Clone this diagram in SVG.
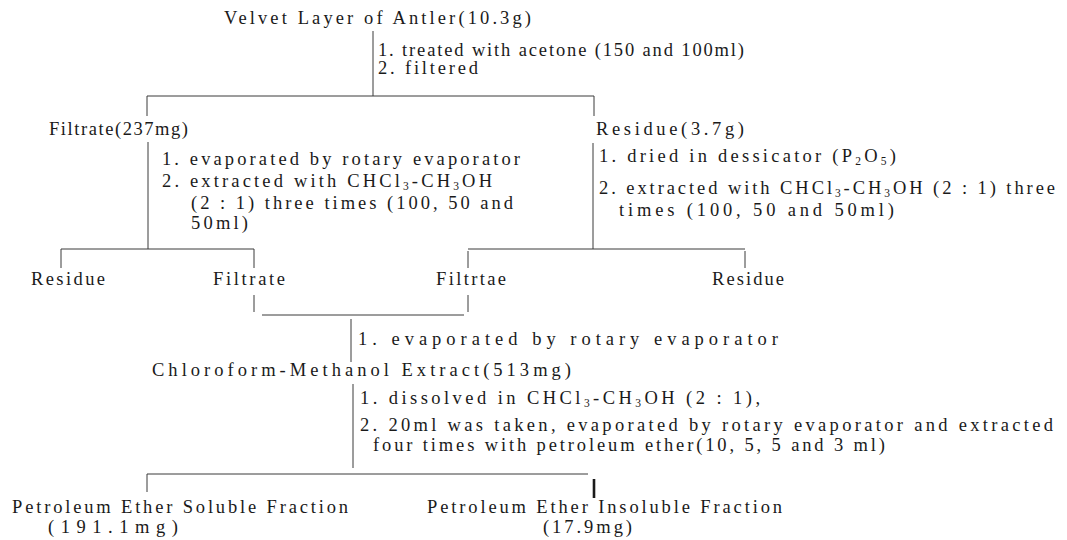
<svg xmlns="http://www.w3.org/2000/svg" width="1067" height="540" viewBox="0 0 1067 540">
<style>
  text { font-family: "Liberation Serif", "Times New Roman", serif; font-size: 18.5px; fill: #1a1a1a; }
  .s { font-size: 11.5px; }
  .ln { stroke: #3a3a3a; stroke-width: 1; fill: none; }
  .bold { stroke: #1a1a1a; stroke-width: 2.6; fill: none; }
</style>
<rect width="1067" height="540" fill="#ffffff"/>
<g id="connectors">
  <line class="ln" x1="373" y1="31" x2="373" y2="96"/>
  <line class="ln" x1="147" y1="96" x2="594" y2="96"/>
  <line class="ln" x1="147" y1="96" x2="147" y2="116"/>
  <line class="ln" x1="594" y1="96" x2="594" y2="116"/>
  <line class="ln" x1="148" y1="142" x2="148" y2="249"/>
  <line class="ln" x1="593" y1="143" x2="593" y2="249"/>
  <line class="ln" x1="61" y1="249" x2="254" y2="249"/>
  <line class="ln" x1="468" y1="249" x2="745" y2="249"/>
  <line class="ln" x1="61" y1="249" x2="61" y2="268"/>
  <line class="ln" x1="254" y1="249" x2="254" y2="268"/>
  <line class="ln" x1="468" y1="251" x2="468" y2="268"/>
  <line class="ln" x1="745" y1="251" x2="745" y2="268"/>
  <line class="ln" x1="254" y1="295" x2="254" y2="312"/>
  <line class="ln" x1="468" y1="295" x2="468" y2="312"/>
  <line class="ln" x1="262" y1="315" x2="464" y2="315"/>
  <line class="ln" x1="351" y1="319" x2="351" y2="362"/>
  <line class="ln" x1="353" y1="384" x2="353" y2="468"/>
  <line class="ln" x1="147" y1="474" x2="588" y2="474"/>
  <line class="ln" x1="147" y1="474" x2="147" y2="492"/>
  <line class="bold" x1="594" y1="479" x2="594" y2="498"/>
</g>
<g id="n-velvet"><text x="224" y="24" textLength="307" lengthAdjust="spacing">Velvet Layer of Antler(10.3g)</text></g>
<g id="step-acetone">
  <text x="378" y="56" textLength="366" lengthAdjust="spacing">1. treated with acetone (150 and 100ml)</text>
  <text x="378" y="74" textLength="100" lengthAdjust="spacing">2. filtered</text>
</g>
<g id="n-filtrate1"><text x="49" y="135" textLength="139" lengthAdjust="spacing">Filtrate(237mg)</text></g>
<g id="n-residue1"><text x="596" y="135" textLength="148" lengthAdjust="spacing">Residue(3.7g)</text></g>
<g id="step-filtrate">
  <text x="162" y="165" textLength="358" lengthAdjust="spacing">1. evaporated by rotary evaporator</text>
  <text x="162" y="187" textLength="330" lengthAdjust="spacing">2. extracted with CHCl<tspan class="s" dy="3">3</tspan><tspan dy="-3">-CH</tspan><tspan class="s" dy="3">3</tspan><tspan dy="-3">OH</tspan></text>
  <text x="191" y="209" textLength="322" lengthAdjust="spacing">(2 : 1) three times (100, 50 and</text>
  <text x="191" y="229" textLength="57" lengthAdjust="spacing">50ml)</text>
</g>
<g id="step-residue">
  <text x="599" y="162" textLength="297" lengthAdjust="spacing">1. dried in dessicator (P<tspan class="s" dy="3">2</tspan><tspan dy="-3">O</tspan><tspan class="s" dy="3">5</tspan><tspan dy="-3">)</tspan></text>
  <text x="599" y="194" textLength="456" lengthAdjust="spacing">2. extracted with CHCl<tspan class="s" dy="3">3</tspan><tspan dy="-3">-CH</tspan><tspan class="s" dy="3">3</tspan><tspan dy="-3">OH (2 : 1) three</tspan></text>
  <text x="619" y="216" textLength="275" lengthAdjust="spacing">times (100, 50 and 50ml)</text>
</g>
<g id="n-residue2"><text x="31" y="285" textLength="74" lengthAdjust="spacing">Residue</text></g>
<g id="n-filtrate2"><text x="213" y="285" textLength="72" lengthAdjust="spacing">Filtrate</text></g>
<g id="n-filtrate3"><text x="436" y="285" textLength="70" lengthAdjust="spacing">Filtrtae</text></g>
<g id="n-residue3"><text x="712" y="285" textLength="72" lengthAdjust="spacing">Residue</text></g>
<g id="step-evaporate"><text x="358" y="345" textLength="420" lengthAdjust="spacing">1. evaporated by rotary evaporator</text></g>
<g id="n-extract"><text x="152" y="376" textLength="419" lengthAdjust="spacing">Chloroform-Methanol Extract(513mg)</text></g>
<g id="step-petroleum">
  <text x="360" y="404" textLength="400" lengthAdjust="spacing">1. dissolved in CHCl<tspan class="s" dy="3">3</tspan><tspan dy="-3">-CH</tspan><tspan class="s" dy="3">3</tspan><tspan dy="-3">OH (2 : 1),</tspan></text>
  <text x="360" y="431" textLength="693" lengthAdjust="spacing">2. 20ml was taken, evaporated by rotary evaporator and extracted</text>
  <text x="373" y="451" textLength="512" lengthAdjust="spacing">four times with petroleum ether(10, 5, 5 and 3 ml)</text>
</g>
<g id="n-soluble">
  <text x="12" y="513" textLength="336" lengthAdjust="spacing">Petroleum Ether Soluble Fraction</text>
  <text x="48" y="533" textLength="130" lengthAdjust="spacing">(191.1mg)</text>
</g>
<g id="n-insoluble">
  <text x="427" y="513" textLength="355" lengthAdjust="spacing">Petroleum Ether Insoluble Fraction</text>
  <text x="543" y="533" textLength="89" lengthAdjust="spacing">(17.9mg)</text>
</g>
</svg>
